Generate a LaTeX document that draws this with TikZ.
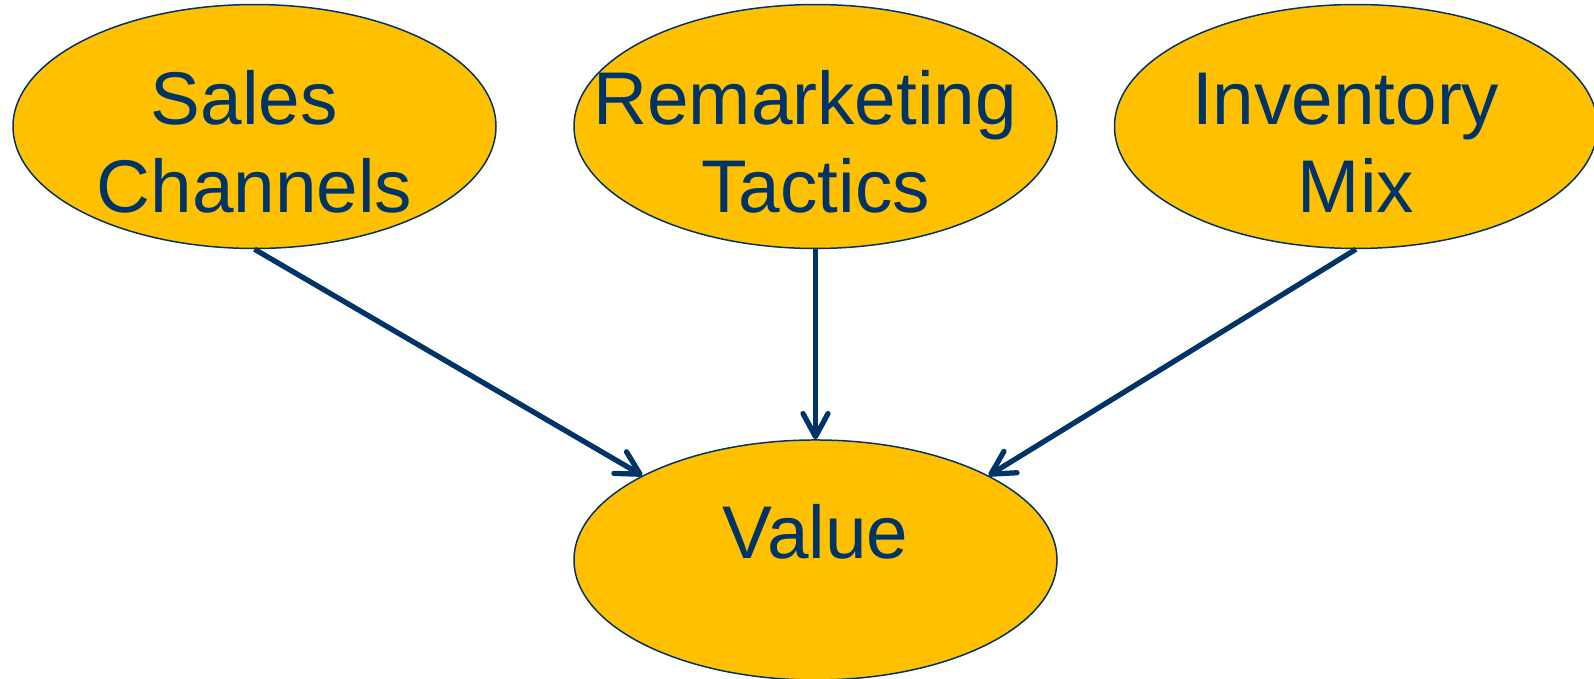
\documentclass[tikz,border=0pt]{standalone}
\usepackage{fontspec}
\setmainfont{Liberation Sans}
\usepackage{tikz}
\usetikzlibrary{shapes.geometric, arrows.meta, positioning}
\usepackage{xcolor}
\definecolor{mgold}{RGB}{255,192,0}
\definecolor{mnavy}{RGB}{0,51,102}
\newcommand{\nowidth}[1]{\makebox[0pt]{#1}}

\begin{document}
\begin{tikzpicture}[
  factor/.style={ellipse, draw=mnavy, line width=0.85pt, fill=mgold, text=mnavy, minimum width=9.66cm, minimum height=4.8cm, inner sep=0pt, align=center, text height=1.2cm, text depth=1.26cm, font=\fontsize{42.5}{50}\selectfont},
  twoline/.style={text height=3.45cm, text depth=-0.56cm},
  arrow/.style={-{Straight Barb[length=0.46cm, width=0.5cm, round]}, line width=3pt, mnavy},
]
  \useasboundingbox (-5.09,2.53) rectangle (26.79,-11.03);

  \node[factor, twoline] (sales) at (0,0) {\nowidth{Sales\ }\\\nowidth{Channels}};
  \node[factor, twoline, right=1.53cm of sales] (tactics) {\nowidth{Remarketing\ }\\\nowidth{Tactics}};
  \node[factor, twoline, right=1.12cm of tactics] (mix) {\nowidth{Inventory\ }\\\nowidth{Mix}};
  \node[factor, below=3.8cm of tactics] (value) {Value};

  \draw[arrow] (sales.south) -- (value.154);
  \draw[arrow] (tactics.south) -- (value.north);
  \draw[arrow] (mix.south) -- (value.26);
\end{tikzpicture}
\end{document}
